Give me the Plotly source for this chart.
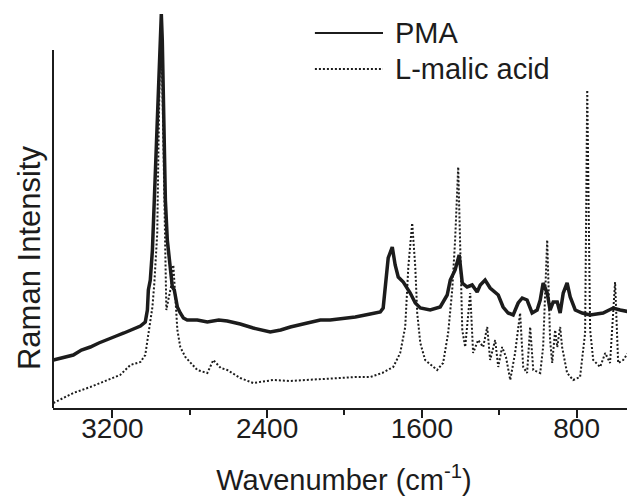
import plotly.graph_objects as go

# PMA spectrum (wavenumber, relative intensity)
pma_wn = [3505, 3450, 3402, 3360, 3314, 3270, 3226, 3180, 3140, 3107, 3080, 3055, 3030,
          3019, 3014, 3004, 2993, 2983, 2968, 2957, 2947, 2942, 2937, 2926, 2916, 2911,
          2900, 2890, 2880, 2864, 2849, 2833, 2813, 2761, 2709, 2650, 2606, 2539, 2472,
          2420, 2384, 2330, 2280, 2192, 2125, 2074, 2022, 1944, 1867, 1815, 1800, 1789,
          1774, 1753, 1738, 1722, 1696, 1660, 1634, 1608, 1557, 1505, 1469, 1453, 1428,
          1407, 1391, 1366, 1340, 1314, 1298, 1273, 1247, 1205, 1180, 1154, 1128, 1102,
          1081, 1056, 1030, 1004, 988, 973, 952, 937, 921, 900, 885, 869, 849, 833, 807,
          771, 730, 663, 611, 575, 523, 497]
pma_int = [52, 55, 57, 62, 65, 69, 72, 76, 79, 82, 84, 86, 90,
           102, 122, 132, 162, 212, 292, 352, 398, 372, 312, 212, 172, 162,
           142, 125, 122, 105, 99, 94, 92, 92, 90, 92, 91, 88, 84,
           82, 80, 82, 85, 89, 92, 92, 93, 95, 98, 100, 104, 129,
           154, 165, 147, 135, 130, 119, 109, 104, 102, 105, 117, 132, 142,
           157, 129, 125, 127, 120, 127, 132, 124, 117, 105, 99, 97, 109,
           114, 112, 99, 102, 112, 129, 119, 102, 110, 110, 99, 119, 129, 115, 102,
           99, 97, 99, 104, 102, 100, 100]

# L-malic acid spectrum (wavenumber, relative intensity)
lma_wn = [3505, 3450, 3402, 3314, 3226, 3160, 3107, 3055, 3030, 3014, 2993, 2983, 2968,
          2962, 2952, 2942, 2932, 2921, 2911, 2895, 2885, 2877, 2864, 2849, 2823, 2761,
          2709, 2678, 2640, 2606, 2539, 2472, 2368, 2280, 2192, 2074, 1944, 1867, 1805,
          1748, 1712, 1686, 1670, 1650, 1634, 1624, 1608, 1583, 1521, 1490, 1464, 1443,
          1428, 1412, 1402, 1391, 1376, 1350, 1335, 1309, 1283, 1262, 1247, 1221, 1205,
          1185, 1165, 1143, 1118, 1092, 1076, 1056, 1040, 1024, 988, 973, 952, 937, 926,
          911, 900, 885, 875, 849, 818, 782, 756, 745, 730, 714, 678, 652, 627, 601, 585,
          559, 523, 497]
lma_int = [9, 14, 19, 25, 32, 37, 47, 50, 57, 77, 105, 129, 179,
           262, 377, 332, 212, 102, 112, 127, 147, 122, 82, 65, 55, 42,
           39, 52, 44, 42, 34, 29, 32, 31, 32, 34, 35, 35, 39,
           45, 59, 85, 145, 189, 145, 99, 69, 52, 42, 49, 79, 122,
           172, 245, 159, 82, 65, 119, 59, 72, 65, 85, 52, 72, 45,
           65, 55, 32, 59, 99, 45, 39, 85, 42, 39, 65, 172, 72, 49,
           82, 65, 85, 65, 39, 32, 35, 79, 322, 82, 52, 45, 59, 49, 130, 49,
           52, 62, 65]

major_ticks = [3200, 2400, 1600, 800]
minor_ticks = [2800, 2000, 1200]
series_names = ["PMA", "L-malic acid"]

ink = "#1c1c1c"
font_family = "Liberation Sans, Arial, sans-serif"

fig = go.Figure()
fig.add_trace(go.Scatter(x=pma_wn, y=pma_int, mode="lines", name=series_names[0],
                         line=dict(color=ink, width=3.5), showlegend=False))
fig.add_trace(go.Scatter(x=lma_wn, y=lma_int, mode="lines", name=series_names[1],
                         line=dict(color=ink, width=2, dash="2px,2px"), showlegend=False))

# manual legend (line samples + labels)
leg_y = [0.9375, 0.8475]
fig.add_shape(type="line", xref="paper", yref="paper", x0=0.450, x1=0.567, y0=leg_y[0], y1=leg_y[0],
              line=dict(color=ink, width=2))
fig.add_shape(type="line", xref="paper", yref="paper", x0=0.450, x1=0.567, y0=leg_y[1], y1=leg_y[1],
              line=dict(color=ink, width=2, dash="2px,2px"))
for name, yy in zip(series_names, leg_y):
    fig.add_annotation(x=0.585, y=yy, xref="paper", yref="paper", text=name,
                       showarrow=False, xanchor="left", yanchor="middle",
                       font=dict(size=29, color=ink, family=font_family))

# y-axis title (placed lower than the plot centre, as in the original)
fig.add_annotation(x=-0.0412, y=0.375, xref="paper", yref="paper", text="Raman Intensity",
                   textangle=-90, showarrow=False, xanchor="center", yanchor="middle",
                   font=dict(size=31, color=ink, family=font_family))

# shortened left axis line
fig.add_shape(type="line", xref="paper", yref="y", x0=0, x1=0, y0=4, y1=362,
              line=dict(color=ink, width=2))

fig.update_layout(
    width=635, height=498,
    margin=dict(l=45, r=8, t=0, b=98, autoexpand=False),
    plot_bgcolor="white", paper_bgcolor="white",
    font=dict(family=font_family, color=ink),
    xaxis=dict(
        range=[3507, 498], showgrid=False, zeroline=False, automargin=False,
        showline=True, linecolor=ink, linewidth=2,
        tickmode="array", tickvals=major_ticks, ticktext=[str(v) for v in major_ticks],
        ticks="outside", ticklen=8, tickwidth=2, tickcolor=ink,
        tickfont=dict(size=28, color=ink), ticklabelstandoff=-14,
        minor=dict(tickmode="array", tickvals=minor_ticks, ticks="outside",
                   ticklen=5, tickwidth=2, tickcolor=ink, showgrid=False),
        title=dict(text="Wavenumber (cm<sup>-1</sup>)", font=dict(size=29, color=ink), standoff=27),
    ),
    yaxis=dict(
        range=[4, 404], showgrid=False, zeroline=False, showline=False, automargin=False,
        showticklabels=False, ticks="",
    ),
)

fig.write_html("out.html")
